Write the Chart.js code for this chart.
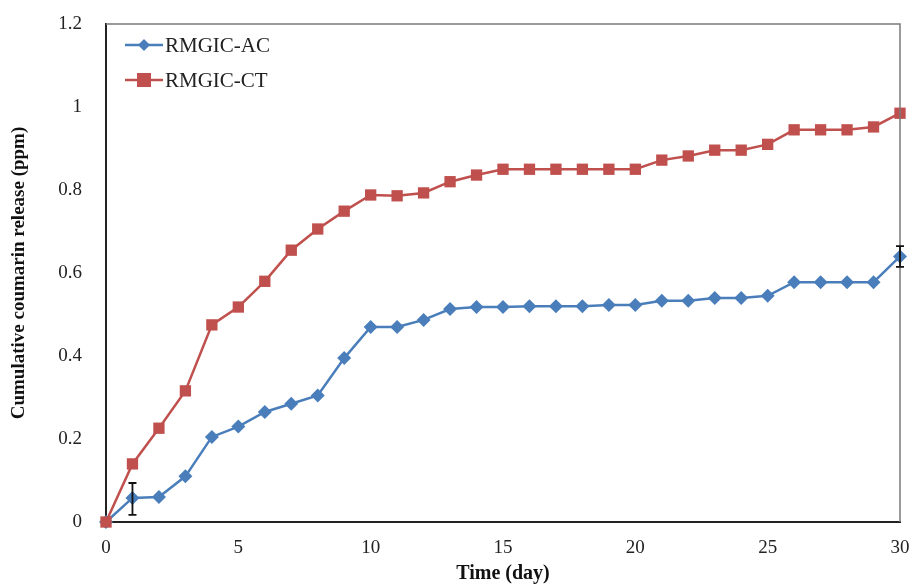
<!DOCTYPE html>
<html>
<head>
<meta charset="utf-8">
<script src="https://cdn.jsdelivr.net/npm/chart.js@4/dist/chart.umd.min.js"></script>
<style>
  html, body { margin: 0; padding: 0; background: #fff; }
  #wrap { width: 912px; height: 586px; }
</style>
</head>
<body>
<div id="wrap"><canvas id="chart"></canvas></div>
<script>
'use strict';

// data
var days = [0,1,2,3,4,5,6,7,8,9,10,11,12,13,14,15,16,17,18,19,20,21,22,23,24,25,26,27,28,29,30]
var acValues = [0,0.058,0.06,0.11,0.205,0.23,0.265,0.285,0.305,0.395,0.47,0.47,0.487,0.513,0.518,0.518,0.52,0.52,0.52,0.523,0.523,0.533,0.533,0.54,0.54,0.545,0.578,0.578,0.578,0.578,0.64]
var ctValues = [0,0.14,0.226,0.316,0.475,0.518,0.58,0.655,0.706,0.749,0.788,0.786,0.793,0.82,0.836,0.85,0.85,0.85,0.85,0.85,0.85,0.872,0.882,0.896,0.896,0.91,0.945,0.945,0.945,0.952,0.985]
// error bars only shown at day 1 and day 30 for AC
var acErrDays = [1, 30]
var acErrLow = [0.017, 0.615]
var acErrHigh = [0.094, 0.665]
var xTicks = [0,5,10,15,20,25,30]
var yTicks = [0,0.2,0.4,0.6,0.8,1,1.2]

var blue = '#4a7ebb'
var red = '#c0504d'
var serif = "'Liberation Serif', 'DejaVu Serif', serif"

function toPoints(xs, ys){
    let pts = []
    for(let i = 0; i < xs.length; i++){
        pts.push({x: xs[i], y: ys[i]})
    }
    return pts
}

//frame, error bars and legend drawn on top
var extras = {
    id: 'extras',
    afterDatasetsDraw(chart){
        let ctx = chart.ctx
        let a = chart.chartArea
        let xs = chart.scales.x
        let ys = chart.scales.y
        ctx.save()

        // top and right frame
        ctx.strokeStyle = '#7a7a7a'
        ctx.lineWidth = 1.5
        ctx.beginPath()
        ctx.moveTo(a.left, a.top)
        ctx.lineTo(a.right, a.top)
        ctx.lineTo(a.right, a.bottom)
        ctx.stroke()

        // error bars
        ctx.strokeStyle = '#111'
        ctx.lineWidth = 1.8
        for(let i = 0; i < acErrDays.length; i++){
            let px = xs.getPixelForValue(acErrDays[i])
            let y1 = ys.getPixelForValue(acErrLow[i])
            let y2 = ys.getPixelForValue(acErrHigh[i])
            ctx.beginPath()
            ctx.moveTo(px, y1); ctx.lineTo(px, y2)
            ctx.moveTo(px - 4, y1); ctx.lineTo(px + 4, y1)
            ctx.moveTo(px - 4, y2); ctx.lineTo(px + 4, y2)
            ctx.stroke()
        }

        // legend inside plot
        let items = [
            {label: 'RMGIC-AC', color: blue, style: 'rectRot'},
            {label: 'RMGIC-CT', color: red, style: 'rect'}
        ]
        ctx.font = '21px ' + serif
        ctx.textBaseline = 'middle'
        for(let i = 0; i < items.length; i++){
            let cy = 45 + i * 35
            let x0 = a.left + 19
            ctx.strokeStyle = items[i].color
            ctx.lineWidth = 2.5
            ctx.beginPath()
            ctx.moveTo(x0, cy); ctx.lineTo(x0 + 38, cy)
            ctx.stroke()
            ctx.fillStyle = items[i].color
            if(items[i].style == 'rect'){
                ctx.fillRect(x0 + 19 - 7, cy - 7, 14, 14)
            }else{
                ctx.beginPath()
                ctx.moveTo(x0 + 19, cy - 6)
                ctx.lineTo(x0 + 25, cy)
                ctx.lineTo(x0 + 19, cy + 6)
                ctx.lineTo(x0 + 13, cy)
                ctx.closePath()
                ctx.fill()
            }
            ctx.fillStyle = '#222'
            ctx.fillText(items[i].label, x0 + 40, cy + 1)
        }
        ctx.restore()
    }
}

var config = {
    type: 'line',
    data: {
        datasets: [
            {
                label: 'RMGIC-AC',
                data: toPoints(days, acValues),
                borderColor: blue,
                backgroundColor: blue,
                borderWidth: 2.5,
                pointStyle: 'rectRot',
                pointRadius: 7,
                pointBorderWidth: 0,
                tension: 0,
                clip: false,
                order: 1
            },
            {
                label: 'RMGIC-CT',
                data: toPoints(days, ctValues),
                borderColor: red,
                backgroundColor: red,
                borderWidth: 2.5,
                pointStyle: 'rect',
                pointRadius: 8,
                pointBorderWidth: 0,
                tension: 0,
                clip: false,
                order: 0
            }
        ]
    },
    options: {
        responsive: true,
        maintainAspectRatio: false,
        animation: false,
        layout: { padding: { top: 24, right: 0, left: 8, bottom: 0 } },
        plugins: {
            legend: { display: false },
            tooltip: { enabled: false }
        },
        scales: {
            x: {
                type: 'linear',
                min: 0,
                max: 30,
                afterBuildTicks(scale){ scale.ticks = xTicks.map(v => ({value: v})) },
                afterFit(scale){
                    scale.height = 64
                    scale.paddingRight = 12
                },
                grid: { display: false },
                border: { display: true, color: '#222', width: 2 },
                ticks: { color: '#222', font: { family: serif, size: 19 }, padding: 7 },
                title: { display: true, text: 'Time (day)', color: '#111', font: { family: serif, size: 20, weight: 'bold' }, padding: { top: 0, bottom: 0 } }
            },
            y: {
                min: 0,
                max: 1.2,
                afterBuildTicks(scale){ scale.ticks = yTicks.map(v => ({value: v})) },
                afterFit(scale){
                    scale.width = 98
                    scale.paddingTop = 0
                    scale.paddingBottom = 0
                },
                grid: { display: false },
                border: { display: true, color: '#222', width: 2 },
                ticks: { color: '#222', font: { family: serif, size: 19 }, padding: 16, callback: v => String(v) },
                title: { display: true, text: 'Cumulative coumarin release (ppm)', color: '#111', font: { family: serif, size: 19, weight: 'bold' }, padding: { top: 0, bottom: 4 } }
            }
        }
    },
    plugins: [extras]
}

new Chart(document.getElementById('chart'), config)
</script>
</body>
</html>
